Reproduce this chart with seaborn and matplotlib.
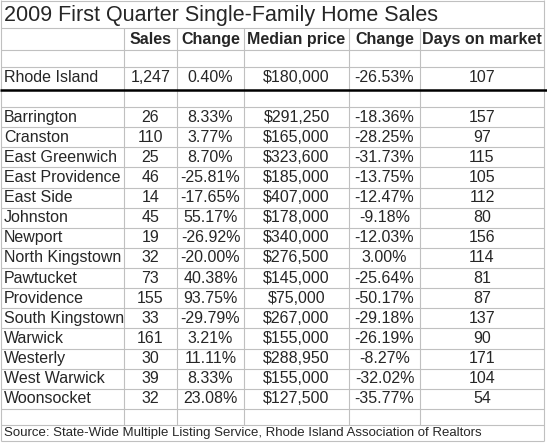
import matplotlib
matplotlib.use("Agg")
import matplotlib.pyplot as plt
import seaborn as sns

sns.set_style("white")
plt.rcParams['font.family'] = ['Liberation Sans', 'DejaVu Sans']

title = "2009 First Quarter Single-Family Home Sales"
headers = ["Sales", "Change", "Median price", "Change", "Days on market"]
state = ["Rhode Island", "1,247", "0.40%", "$180,000", "-26.53%", "107"]
towns = ["Barrington", "Cranston", "East Greenwich", "East Providence", "East Side",
         "Johnston", "Newport", "North Kingstown", "Pawtucket", "Providence",
         "South Kingstown", "Warwick", "Westerly", "West Warwick", "Woonsocket"]
sales = ["26", "110", "25", "46", "14", "45", "19", "32", "73", "155", "33", "161", "30", "39", "32"]
sales_change = ["8.33%", "3.77%", "8.70%", "-25.81%", "-17.65%", "55.17%", "-26.92%", "-20.00%",
                "40.38%", "93.75%", "-29.79%", "3.21%", "11.11%", "8.33%", "23.08%"]
median_price = ["$291,250", "$165,000", "$323,600", "$185,000", "$407,000", "$178,000", "$340,000",
                "$276,500", "$145,000", "$75,000", "$267,000", "$155,000", "$288,950", "$155,000", "$127,500"]
price_change = ["-18.36%", "-28.25%", "-31.73%", "-13.75%", "-12.47%", "-9.18%", "-12.03%", "3.00%",
                "-25.64%", "-50.17%", "-29.18%", "-26.19%", "-8.27%", "-32.02%", "-35.77%"]
days = ["157", "97", "115", "105", "112", "80", "156", "114", "81", "87", "137", "90", "171", "104", "54"]
source = "Source: State-Wide Multiple Listing Service, Rhode Island Association of Realtors"

fig = plt.figure(figsize=(5.47, 4.43), dpi=100)
ax = fig.add_axes([0, 0, 1, 1])
ax.set_xlim(0, 547)
ax.set_ylim(443, 0)
ax.axis("off")

col_x = [1, 124, 177, 244, 349, 420, 544]
grid = "#c0c0c0"
rh = 20.13
top = 107
row_tops = [28, 50, 67, 90, top] + [top + rh * (i + 1) for i in range(15)] + [425, 441]

# gitterlinjer
for y in row_tops:
    ax.hlines(y, col_x[0], col_x[-1], color=grid, lw=0.8)
ax.vlines(col_x[0], 0, 441, color=grid, lw=0.8)
ax.vlines(col_x[-1], 0, 441, color=grid, lw=0.8)
ax.hlines(0.5, col_x[0], col_x[-1], color=grid, lw=0.8)
for x in col_x[1:-1]:
    ax.vlines(x, 28, 425, color=grid, lw=0.8)
ax.hlines(90, 0, 547, color="black", lw=1.8)

fs = 11.5
ax.text(4, 15, title, fontsize=15.5, va="center", ha="left")
centers = [(col_x[i] + col_x[i + 1]) / 2 for i in range(1, 6)]
for cx, h in zip(centers, headers):
    ax.text(cx, 39, h, fontsize=fs, fontweight="bold", va="center", ha="center")

def row(y, vals):
    ax.text(4, y, vals[0], fontsize=fs, va="center", ha="left")
    for cx, v in zip(centers, vals[1:]):
        ax.text(cx, y, v, fontsize=fs, va="center", ha="center")

row(77, state)
for i in range(len(towns)):
    y = top + rh * i + rh / 2
    row(y, [towns[i], sales[i], sales_change[i], median_price[i], price_change[i], days[i]])

ax.text(4, 433, source, fontsize=9.5, va="center", ha="left")
fig.savefig("out.png", dpi=100)
